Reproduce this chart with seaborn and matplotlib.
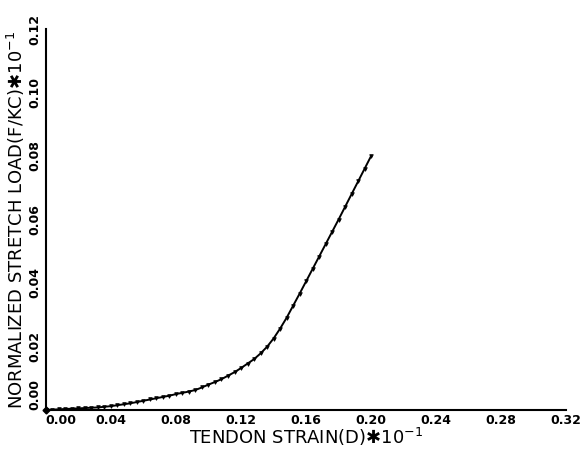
import matplotlib
matplotlib.use("Agg")
import matplotlib.pyplot as plt
import seaborn as sns
import pandas as pd

# ========== 数据 ==========
strain = [0.000, 0.004, 0.008, 0.012, 0.016, 0.020, 0.024, 0.028, 0.032, 0.036,
          0.040, 0.044, 0.048, 0.052, 0.056, 0.060, 0.064, 0.068, 0.072, 0.076,
          0.080, 0.084, 0.088, 0.092, 0.096, 0.100, 0.104, 0.108, 0.112, 0.116,
          0.120, 0.124, 0.128, 0.132, 0.136, 0.140, 0.144, 0.148, 0.152, 0.156,
          0.160, 0.164, 0.168, 0.172, 0.176, 0.180, 0.184, 0.188, 0.192, 0.196,
          0.200]
load = [0.0000, 0.0001, 0.0002, 0.0003, 0.0004, 0.0005, 0.0006, 0.0007, 0.0008, 0.0010,
        0.0012, 0.0015, 0.0018, 0.0021, 0.0025, 0.0029, 0.0033, 0.0037, 0.0041, 0.0045,
        0.0050, 0.0054, 0.0058, 0.0063, 0.0071, 0.0080, 0.0088, 0.0097, 0.0108, 0.0119,
        0.0132, 0.0146, 0.0160, 0.0178, 0.0199, 0.0225, 0.0256, 0.0290, 0.0328, 0.0366,
        0.0405, 0.0444, 0.0483, 0.0522, 0.0561, 0.0600, 0.0640, 0.0680, 0.0720, 0.0760,
        0.0800]

x_ticks = [0.00, 0.04, 0.08, 0.12, 0.16, 0.20, 0.24, 0.28, 0.32]
y_ticks = [0.00, 0.02, 0.04, 0.06, 0.08, 0.10, 0.12]

x_label = "TENDON STRAIN(D)✱10$^{-1}$"
y_label = "NORMALIZED STRETCH LOAD(F/KC)✱10$^{-1}$"

df = pd.DataFrame({"strain": strain, "load": load})

# ========== 绘图 ==========
sns.set_style("white")
plt.rcParams["font.family"] = ["DejaVu Sans"]
plt.rcParams["text.color"] = "black"
plt.rcParams["axes.labelcolor"] = "black"
plt.rcParams["xtick.color"] = "black"
plt.rcParams["ytick.color"] = "black"

fig = plt.figure(figsize=(5.88, 4.54), dpi=100)
ax = fig.add_axes([0.078, 0.097, 0.885, 0.839])

sns.lineplot(data=df, x="strain", y="load", ax=ax, color="black", linewidth=1.4,
             marker="v", markersize=2.6, markeredgewidth=0.6,
             markeredgecolor="black", markerfacecolor="black")
ax.plot(strain[0], load[0], marker="D", color="black", markersize=3.5, clip_on=False)

ax.set_xlim(x_ticks[0], x_ticks[-1])
ax.set_ylim(y_ticks[0], y_ticks[-1])
ax.set_xticks(x_ticks)
ax.set_yticks(y_ticks)
ax.set_xticklabels([f"{t:.2f}" for t in x_ticks], fontsize=9, fontweight="bold")
ax.set_yticklabels([f"{t:.2f}" for t in y_ticks], fontsize=9, fontweight="bold",
                   rotation=90, va="center")
ax.get_xticklabels()[0].set_ha("left")
ax.get_yticklabels()[0].set_va("bottom")
ax.tick_params(axis="both", direction="in", length=4, width=1.2, pad=3)

ax.set_xlabel(x_label, fontsize=13, labelpad=-1)
ax.set_ylabel(y_label, fontsize=13, labelpad=1)

sns.despine(ax=ax)
for s in ["left", "bottom"]:
    ax.spines[s].set_color("black")
    ax.spines[s].set_linewidth(1.5)

plt.savefig("out.png", dpi=100)
